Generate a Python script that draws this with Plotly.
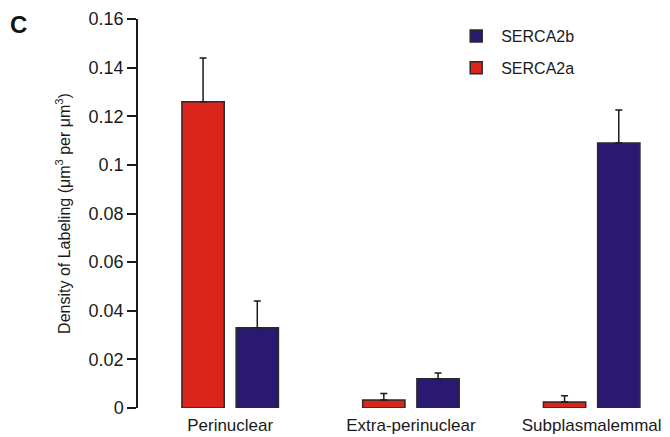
import plotly.graph_objects as go

categories = ["Perinuclear", "Extra-perinuclear", "Subplasmalemmal"]
serca2a = [0.126, 0.0033, 0.0025]
serca2a_err = [0.018, 0.0027, 0.0025]
serca2b = [0.033, 0.012, 0.109]
serca2b_err = [0.011, 0.0024, 0.0136]
y_ticks = [0, 0.02, 0.04, 0.06, 0.08, 0.1, 0.12, 0.14, 0.16]

RED = "#DA251D"
BLUE = "#2B1870"
OUTLINE = "#2a2a2a"
FONT = "Liberation Sans, Arial, sans-serif"

fig = go.Figure()
fig.add_trace(go.Bar(
    name="SERCA2a", x=categories, y=serca2a, legendgroup="a", legendrank=2,
    marker=dict(color=RED, line=dict(color=OUTLINE, width=1.5)),
    error_y=dict(type="data", array=serca2a_err, arrayminus=[0]*3, symmetric=False,
                 color="#1a1a1a", thickness=1.5, width=3.5),
))
fig.add_trace(go.Bar(
    name="SERCA2b", x=categories, y=serca2b, legendgroup="b", legendrank=1,
    marker=dict(color=BLUE, line=dict(color=OUTLINE, width=1.5)),
    error_y=dict(type="data", array=serca2b_err, arrayminus=[0]*3, symmetric=False,
                 color="#1a1a1a", thickness=1.5, width=3.5),
))

fig.update_layout(
    width=670, height=437,
    margin=dict(l=138, r=10, t=19, b=29, autoexpand=False),
    paper_bgcolor="white", plot_bgcolor="white",
    barmode="group", bargap=0.40, bargroupgap=0.22,
    font=dict(family=FONT, color="#1a1a1a"),
    showlegend=True,
    legend=dict(x=0.6, y=1.0, xanchor="left", yanchor="top",
                traceorder="grouped", tracegroupgap=8, itemwidth=40,
                font=dict(size=16, family=FONT), bgcolor="rgba(0,0,0,0)"),
    annotations=[dict(text="<b>C</b>", xref="paper", yref="paper",
                      x=-0.25, y=0.987, xanchor="left", yanchor="middle",
                      showarrow=False, font=dict(size=24, family=FONT, color="#111"))],
)
fig.update_xaxes(
    range=[-0.51, 2.378], showline=False, showgrid=False, zeroline=False,
    ticks="", tickfont=dict(size=17, family=FONT), ticklabelstandoff=5,
    automargin=False,
)
fig.update_yaxes(
    range=[0, 0.16], tickvals=y_ticks, showgrid=False, zeroline=False,
    showline=True, linecolor="#1a1a1a", linewidth=1.5,
    ticks="outside", ticklen=9, tickwidth=1.5, tickcolor="#1a1a1a",
    tickfont=dict(size=18, family=FONT), automargin=False,
    title=dict(text="Density of Labeling (μm<sup>3</sup> per μm<sup>3</sup>)",
               font=dict(size=16, family=FONT), standoff=14),
)

fig.write_html("out.html", config={"displayModeBar": False},
               post_script="document.body.style.margin='0';")
